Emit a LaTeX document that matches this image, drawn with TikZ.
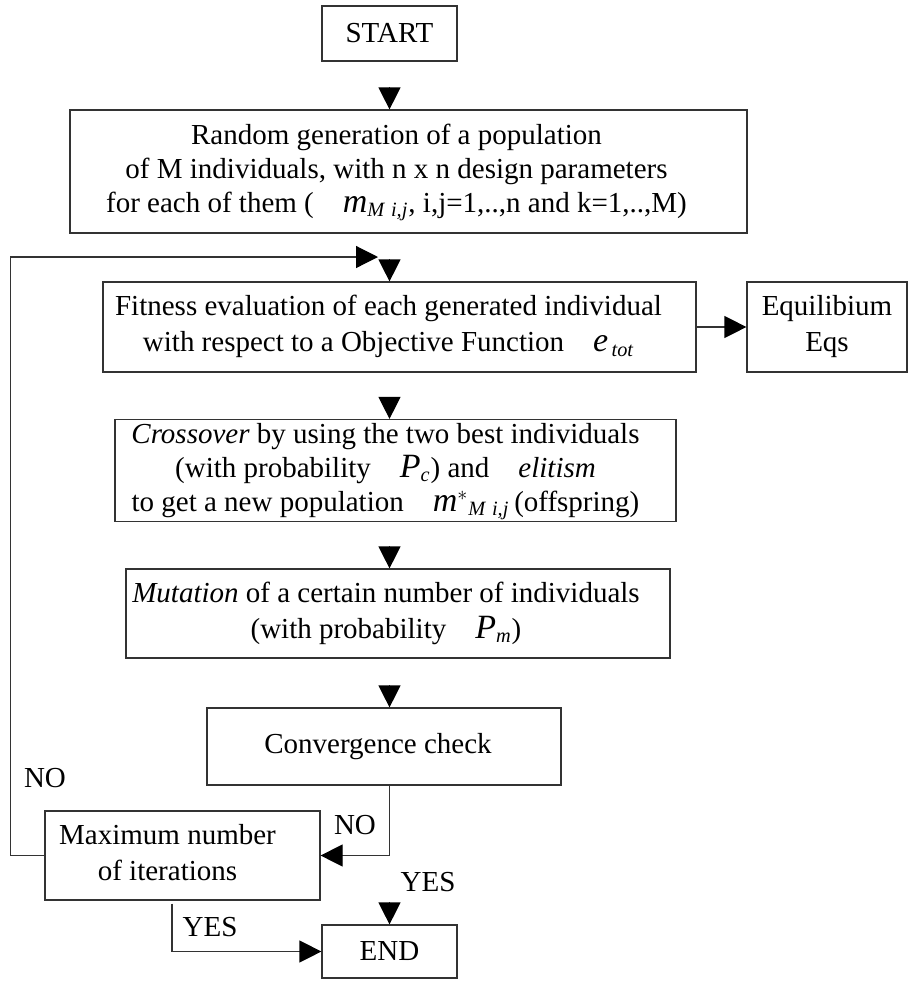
\documentclass[tikz,border=0pt]{standalone}
\usepackage{fontspec}
\setmainfont{Liberation Serif}
\usepackage{amsmath}
\usetikzlibrary{arrows.meta,calc}

\newcommand{\ivar}[2]{$\text{\fontsize{17}{17}\selectfont\itshape #1}_{\text{\itshape #2}}$}

\begin{document}
\begin{tikzpicture}
[x=0.5pt,y=-0.5pt,
 font=\fontsize{14.5}{17}\selectfont,
 box/.style={rectangle,draw=black!80,line width=0.6pt,inner sep=0pt},
 tri/.style={line width=0.6pt,draw=black!80,-{Triangle[length=11pt,width=11pt,black]}},
 lbl/.style={inner sep=0pt}]
\useasboundingbox (0,0) rectangle (908,981);
\node[box,minimum width=67.5pt,minimum height=27.5pt]  (startbox) at (389.5,33.5)  {START};
\node[box,minimum width=338.5pt,minimum height=61.5pt] (random)   at (408.5,171.5)
  {\raisebox{2.5pt}{\begin{tabular}{@{}c@{}}Random generation of a population\\
   of M individuals, with n x n design parameters\\
   for each of them (\quad\ivar{m}{M\,\,i,j}, i,j=1,..,n and k=1,..,M)\end{tabular}}\hspace*{12pt}};
\node[box,minimum width=296.5pt,minimum height=45pt]   (fitness)  at (399.5,327)
  {\begin{tabular}{@{}c@{}}Fitness evaluation of each generated individual\\[1pt]
   with respect to a Objective Function\quad\ivar{e}{\,tot}\end{tabular}\hspace*{11pt}};
\node[box,minimum width=80pt,minimum height=45pt]      (equil)    at (827,327)
  {\begin{tabular}{@{}c@{}}Equilibium\\[1pt] Eqs\end{tabular}};
\node[box,minimum width=280.5pt,minimum height=50.5pt] (cross)    at (395.5,470.5)
  {\begin{tabular}{@{}c@{}}\textit{Crossover} by using the two best individuals\\
   (with probability\quad\ivar{P}{c}) and\quad\textit{elitism}\\
   to get a new population\quad$\text{\fontsize{17}{17}\selectfont\itshape m}^{*}{}_{\text{\itshape M\,\,i,j}}$\,(offspring)\end{tabular}\hspace*{10pt}};
\node[box,minimum width=272pt,minimum height=44.5pt]   (mutation) at (398,613.5)
  {\begin{tabular}{@{}c@{}}\textit{Mutation} of a certain number of individuals\\[1pt]
   (with probability\quad\ivar{P}{m})\end{tabular}\hspace*{12pt}};
\node[box,minimum width=177pt,minimum height=38.5pt]   (converge) at (384,746.5) {Convergence check\hspace*{6pt}};
\node[box,minimum width=137.5pt,minimum height=44.5pt] (maxiter)  at (182.5,855.5)
  {\begin{tabular}{@{}c@{}}Maximum number\\[1pt] of iterations\end{tabular}\hspace*{15pt}};
\node[box,minimum width=67.5pt,minimum height=26.5pt]  (endbox)   at (389.5,951.5) {END};
\node[lbl] (no1)  at (45,778)  {NO};
\node[lbl] (no2)  at (355,825) {NO};
\node[lbl] (yes1) at (428,882) {YES};
\node[lbl] (yes2) at (210,927) {YES};
\coordinate (loop) at (378,257);
% heads only
\draw[tri] ($(startbox.south |- random.north)+(0,11pt)$)   -- (startbox.south |- random.north);
\draw[tri] ($(startbox.south |- fitness.north)+(0,11pt)$)  -- (startbox.south |- fitness.north);
\draw[tri] ($(startbox.south |- cross.north)+(0,11pt)$)    -- (startbox.south |- cross.north);
\draw[tri] ($(startbox.south |- mutation.north)+(0,11pt)$) -- (startbox.south |- mutation.north);
\draw[tri] ($(startbox.south |- converge.north)+(0,11pt)$) -- (startbox.south |- converge.north);
\draw[tri] ($(endbox.north)+(0,11pt)$) -- (endbox.north);
% lines
\draw[tri] (fitness.east) -- (equil.west);
\draw[tri] (maxiter.west) -- ++(-17pt,0) |- (loop);
\draw[tri] (startbox.south |- converge.south) |- (maxiter.east);
\draw[tri] ([xshift=-5.25pt,yshift=-1.5pt]maxiter.south) |- (endbox.west);
\end{tikzpicture}
\end{document}
